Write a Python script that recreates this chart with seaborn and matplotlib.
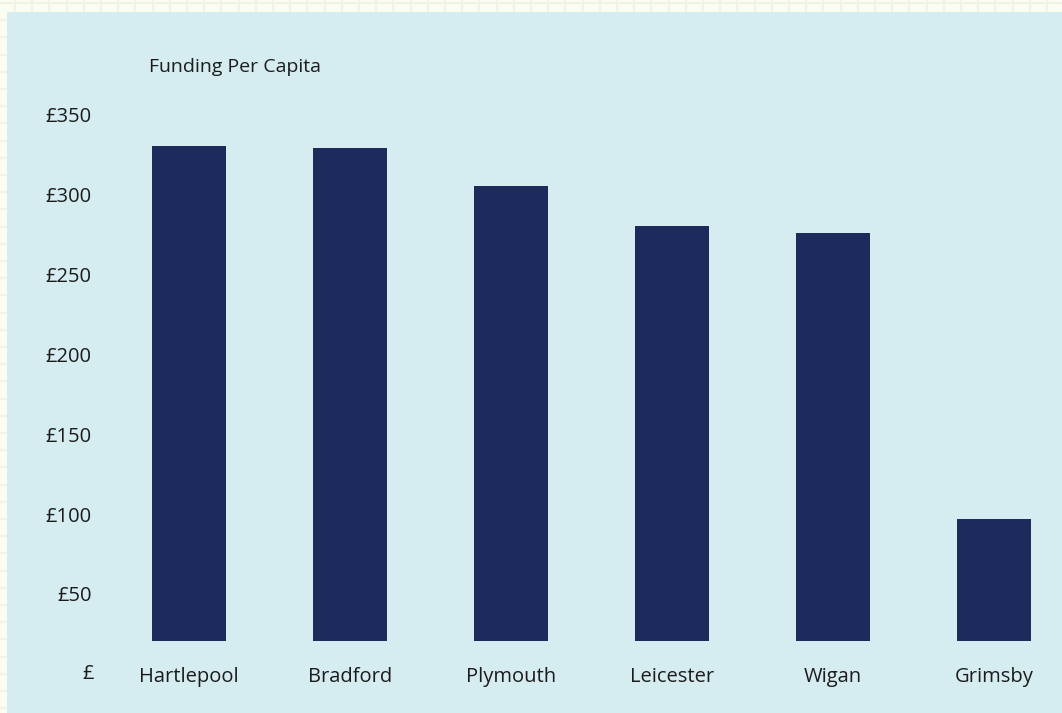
import matplotlib
matplotlib.use("Agg")
import matplotlib.pyplot as plt
import seaborn as sns
import pandas as pd
from matplotlib.patches import Rectangle

# Funding per capita by town (GBP)
towns = ["Hartlepool", "Bradford", "Plymouth", "Leicester", "Wigan", "Grimsby"]
funding = [330, 329, 305, 280, 276, 97]
tick_values = [50, 100, 150, 200, 250, 300, 350]
tick_labels = ["£50", "£100", "£150", "£200", "£250", "£300", "£350"]
zero_label = "£"
title = "Funding Per Capita"

df = pd.DataFrame({"town": towns, "funding": funding})

sns.set_theme(style="white")
plt.rcParams["font.family"] = ["Open Sans", "DejaVu Sans"]

W, H, DPI = 1062, 713, 100
fig = plt.figure(figsize=(W / DPI, H / DPI), dpi=DPI)
cream = "#fbfcf2"
panel = "#d5edf1"
navy = "#1d2b5c"
ink = "#1c1c1c"
fig.patch.set_facecolor(cream)

# Squared-paper backdrop with a light blue card on top
bg = fig.add_axes([0, 0, 1, 1], zorder=-10)
bg.set_xlim(0, W)
bg.set_ylim(H, 0)
bg.axis("off")
x = 15.0
while x < W:
    bg.axvline(x, color="#f1f4e4", lw=1.6, zorder=1)
    x += 17.2
y = 3.0
while y < H:
    bg.axhline(y, color="#f1f4e4", lw=1.6, zorder=1)
    y += 17.2
bg.add_patch(Rectangle((7, 12), W - 7, H - 12, facecolor=panel,
                       edgecolor="none", zorder=5))

# Main bar axes
ax = fig.add_axes([100 / W, (H - 641) / H, 960 / W, 541 / H])
ax.set_facecolor("none")
sns.barplot(data=df, x="town", y="funding", color=navy, width=0.46,
            saturation=1, linewidth=0, edgecolor=navy, ax=ax)
ax.set_xlim(-0.55, 5.41)
ax.set_ylim(20.6, 359.0)
ax.set_yticks(tick_values)
ax.set_yticklabels(tick_labels)
ax.set_xlabel("")
ax.set_ylabel("")
for s in ax.spines.values():
    s.set_visible(False)
ax.tick_params(axis="y", length=0, pad=6, labelsize=14.5, labelcolor=ink)
ax.tick_params(axis="x", length=0, pad=19, labelsize=14.5, labelcolor=ink)
ax.grid(False)

# Zero label sits on the category label row
ax.annotate(zero_label, xy=(0, 0), xycoords=ax.get_yaxis_transform(),
            xytext=(-6 * 72 / DPI, 0), textcoords="offset points",
            ha="right", va="center", fontsize=14.5, color=ink,
            annotation_clip=False)

fig.text(149 / W, 1 - 72 / H, title, ha="left", va="baseline",
         fontsize=14, color=ink)

fig.savefig("out.png", dpi=DPI, facecolor=fig.get_facecolor())
